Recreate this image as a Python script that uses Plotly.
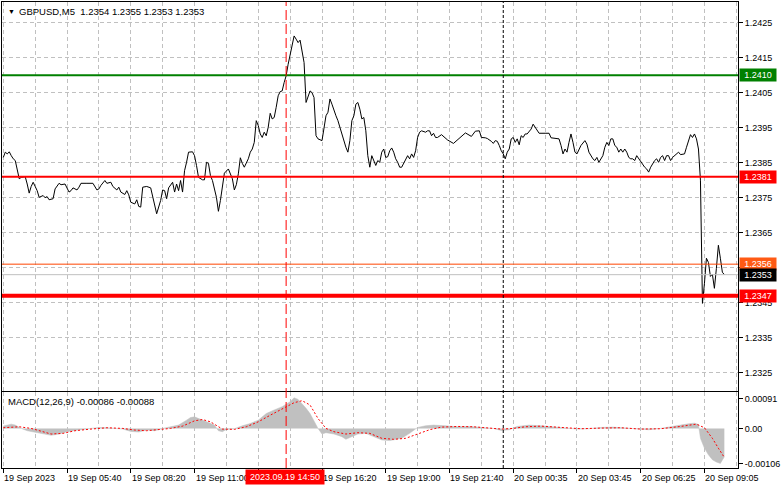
import plotly.graph_objects as go
from plotly.subplots import make_subplots

# ---------------- data ----------------
symbol_title = "GBPUSD,M5\u00a0\u00a01.2354 1.2355 1.2353 1.2353"
macd_title = "MACD(12,26,9) -0.00086 -0.00088"

price_bar = [0, 1, 2, 3, 4, 5, 6, 7, 8, 9, 11, 12, 13, 14, 15, 16, 17, 18, 20, 21, 22, 23, 25, 26, 27, 28, 29, 31,
             33, 34, 35, 37, 38, 39, 42, 45, 47, 48, 49, 51, 52, 54, 55, 57, 58, 59, 61, 62, 63, 64, 66, 67, 68, 69,
             70, 72, 74, 75, 76, 77, 79, 80, 81, 82, 83, 84, 85, 86, 87, 88, 89, 90, 91, 92, 93, 95, 96, 97, 98,
             100, 101, 102, 103, 104, 105, 107, 108, 109, 110, 111, 113, 114, 115, 116, 117, 118, 119, 120, 121,
             123, 124, 125, 126, 127, 128, 129, 130, 131, 132, 133, 134, 135, 136, 137, 138, 139, 140, 141, 142,
             143, 144, 145, 146, 147, 148, 149, 150, 151, 152, 153, 154, 155, 156, 157, 158, 160, 161, 162, 163,
             164, 165, 166, 167, 168, 169, 170, 172, 173, 174, 175, 176, 177, 178, 179, 180, 181, 182, 183, 184,
             185, 186, 187, 188, 189, 190, 191, 192, 193, 194, 195, 196, 197, 198, 199, 200, 201, 202, 203, 204,
             205, 206, 207, 208, 209, 210, 212, 213, 214, 215, 216, 217, 218, 220, 223, 226, 229, 232, 235, 237,
             239, 240, 242, 243, 245, 246, 247, 248, 249, 250, 251, 252, 253, 254, 255, 256, 257, 258, 259, 260,
             261, 262, 263, 265, 266, 267, 268, 269, 272, 274, 275, 278, 279, 280, 281, 282, 283, 284, 285, 286,
             287, 288, 289, 290, 292, 293, 294, 295, 296, 297, 298, 299, 300, 301, 302, 303, 304, 305, 306, 307,
             308, 309, 310, 311, 312, 313, 314, 315, 316, 317, 318, 319, 320, 321, 322, 323, 324, 325, 326, 327,
             328, 329, 330, 331, 332, 333, 334, 335, 336, 337, 338, 339, 340, 342, 343, 344, 345, 346, 347, 348,
             349, 350, 351, 352, 353, 354, 355, 356, 357, 358, 359, 360, 361, 362]
price_close = [1.23865, 1.23880, 1.23875, 1.23881, 1.23870, 1.23861, 1.23856, 1.23827, 1.23804, 1.23808, 1.23810,
               1.23789, 1.23763, 1.23782, 1.23794, 1.23782, 1.23770, 1.23751, 1.23756, 1.23750, 1.23753, 1.23744,
               1.23747, 1.23775, 1.23782, 1.23791, 1.23787, 1.23789, 1.23766, 1.23770, 1.23778, 1.23772, 1.23780,
               1.23791, 1.23791, 1.23791, 1.23772, 1.23775, 1.23785, 1.23799, 1.23791, 1.23794, 1.23782, 1.23772,
               1.23780, 1.23766, 1.23759, 1.23770, 1.23758, 1.23737, 1.23732, 1.23744, 1.23725, 1.23723, 1.23780,
               1.23782, 1.23778, 1.23751, 1.23732, 1.23704, 1.23742, 1.23772, 1.23770, 1.23747, 1.23778, 1.23785,
               1.23794, 1.23766, 1.23789, 1.23770, 1.23799, 1.23766, 1.23827, 1.23851, 1.23880, 1.23881, 1.23870,
               1.23842, 1.23808, 1.23801, 1.23801, 1.23851, 1.23848, 1.23813, 1.23799, 1.23751, 1.23711, 1.23742,
               1.23789, 1.23820, 1.23832, 1.23820, 1.23804, 1.23772, 1.23787, 1.23818, 1.23864, 1.23848, 1.23837,
               1.23861, 1.23880, 1.23889, 1.23908, 1.23970, 1.23956, 1.23932, 1.23922, 1.23937, 1.23927, 1.23951,
               1.23991, 1.23975, 1.23979, 1.24008, 1.24041, 1.24053, 1.24055, 1.24079, 1.24098, 1.24131, 1.24160,
               1.24188, 1.24212, 1.24203, 1.24193, 1.24200, 1.24164, 1.24136, 1.24022, 1.24041, 1.24055, 1.24050,
               1.24036, 1.23927, 1.23918, 1.23913, 1.23951, 1.23984, 1.23994, 1.24032, 1.24017, 1.23998, 1.23984,
               1.23970, 1.23951, 1.23927, 1.23894, 1.23880, 1.23913, 1.23970, 1.23984, 1.24017, 1.24022, 1.24003,
               1.23975, 1.23979, 1.23941, 1.23870, 1.23837, 1.23870, 1.23856, 1.23842, 1.23856, 1.23851, 1.23880,
               1.23889, 1.23865, 1.23867, 1.23884, 1.23892, 1.23880, 1.23861, 1.23851, 1.23837, 1.23837, 1.23848,
               1.23861, 1.23870, 1.23861, 1.23875, 1.23865, 1.23884, 1.23922, 1.23937, 1.23941, 1.23937, 1.23941,
               1.23941, 1.23927, 1.23934, 1.23922, 1.23922, 1.23930, 1.23915, 1.23905, 1.23920, 1.23935, 1.23925,
               1.23940, 1.23941, 1.23922, 1.23921, 1.23919, 1.23911, 1.23905, 1.23913, 1.23911, 1.23899, 1.23884,
               1.23875, 1.23861, 1.23880, 1.23889, 1.23918, 1.23922, 1.23908, 1.23918, 1.23901, 1.23927, 1.23922,
               1.23932, 1.23932, 1.23946, 1.23960, 1.23951, 1.23939, 1.23934, 1.23934, 1.23934, 1.23921, 1.23919,
               1.23918, 1.23899, 1.23875, 1.23889, 1.23880, 1.23908, 1.23932, 1.23908, 1.23880, 1.23875, 1.23889,
               1.23899, 1.23913, 1.23903, 1.23880, 1.23870, 1.23861, 1.23856, 1.23865, 1.23851, 1.23861, 1.23870,
               1.23894, 1.23908, 1.23899, 1.23918, 1.23918, 1.23899, 1.23894, 1.23880, 1.23889, 1.23880, 1.23889,
               1.23880, 1.23865, 1.23861, 1.23861, 1.23856, 1.23870, 1.23861, 1.23851, 1.23842, 1.23837, 1.23832,
               1.23823, 1.23837, 1.23848, 1.23856, 1.23861, 1.23851, 1.23865, 1.23870, 1.23856, 1.23870, 1.23870,
               1.23856, 1.23865, 1.23870, 1.23877, 1.23880, 1.23873, 1.23875, 1.23894, 1.23913, 1.23930, 1.23922,
               1.23932, 1.23918, 1.23889, 1.23800, 1.23448, 1.23505, 1.23577, 1.23565, 1.23525, 1.23531, 1.23491,
               1.23548, 1.23614, 1.23577, 1.23537, 1.23530]

hist_bar = [0, 4, 6, 9, 12, 16, 20, 24, 28, 32, 36, 40, 44, 48, 52, 56, 60, 64, 68, 72, 76, 80, 84, 88, 92, 94, 96,
            100, 104, 106, 108, 110, 112, 116, 120, 124, 128, 132, 136, 140, 144, 146, 148, 150, 152, 154, 156, 158,
            160, 162, 166, 170, 172, 174, 178, 182, 186, 190, 194, 196, 200, 204, 208, 212, 216, 222, 228, 234, 240,
            246, 250, 254, 258, 264, 270, 276, 282, 288, 294, 300, 306, 312, 318, 324, 330, 336, 340, 344, 347, 349,
            350, 352, 354, 356, 358, 360, 362]
hist_val = [0.00007, 0.00013, 0.00010, 0.0, -0.00007, -0.00012, -0.00017, -0.00021, -0.00017, -0.00010, -0.00006,
            -0.00003, 0.00001, 0.00003, 0.00002, 0.00001, -0.00002, -0.00009, -0.00011, -0.00005, -0.00007, 0.0,
            0.00005, 0.00010, 0.00025, 0.00033, 0.00035, 0.00025, 0.00017, 0.00010, -0.00007, -0.00010, -0.00003,
            -0.00001, 0.00008, 0.00015, 0.00025, 0.00045, 0.00056, 0.00066, 0.00081, 0.00093, 0.00088, 0.00076,
            0.00061, 0.00045, 0.00020, 0.0, -0.00017, -0.00013, -0.00017, -0.00025, -0.00033, -0.00027, -0.00017,
            -0.00015, -0.00025, -0.00035, -0.00037, -0.00035, -0.00030, -0.00015, 0.00003, 0.00008, 0.00010,
            0.00008, 0.00005, 0.00006, 0.00004, 0.0, -0.00006, -0.00004, 0.00006, 0.00010, 0.00008, 0.00004,
            0.00001, -0.00002, -0.00001, 0.00003, 0.00004, 0.00001, -0.00003, -0.00004, 0.0, 0.00005, 0.00010,
            0.00014, 0.00016, 0.00012, -0.00030, -0.00060, -0.00080, -0.00095, -0.00102, -0.00106, -0.00086]

signal_bar = [0, 8, 14, 20, 24, 30, 36, 44, 52, 60, 66, 72, 78, 84, 90, 96, 100, 104, 110, 116, 122, 128, 134, 140,
              146, 150, 154, 158, 162, 166, 172, 178, 184, 190, 196, 202, 208, 214, 220, 228, 236, 244, 250, 256,
              262, 270, 280, 290, 300, 310, 320, 330, 340, 348, 352, 356, 359, 362]
signal_val = [0.00002, 0.00005, 0.0, -0.00010, -0.00017, -0.00015, -0.00007, -0.00002, 0.00002, 0.0, -0.00005,
              -0.00007, -0.00004, 0.0, 0.00007, 0.00023, 0.00027, 0.00020, -0.00002, -0.00003, 0.00005, 0.00020,
              0.00040, 0.00058, 0.00078, 0.00084, 0.00071, 0.00030, 0.0, -0.00010, -0.00017, -0.00013, -0.00015,
              -0.00030, -0.00033, -0.00030, -0.00018, -0.00004, 0.00004, 0.00006, 0.00005, 0.00002, -0.00002, 0.0,
              0.00005, 0.00007, 0.00003, -0.00001, 0.00001, 0.00002, -0.00002, -0.00001, 0.00006, 0.00013, 0.00002,
              -0.00030, -0.00060, -0.00088]

# tick at 1.2355 is hidden behind the price boxes in the reference -> blank text
price_ticks = [1.2325, 1.2335, 1.2345, 1.2355, 1.2365, 1.2375, 1.2385, 1.2395, 1.2405, 1.2415, 1.2425]
price_tick_text = ["1.2325", "1.2335", "1.2345", "", "1.2365", "1.2375", "1.2385", "1.2395", "1.2405",
                   "1.2415", "1.2425"]
macd_ticks = [0.00091, 0.0, -0.00106]
macd_tick_text = ["0.00091", "0.00", "-0.00106"]

# label at bar 128 is hidden behind the cursor time box in the reference
time_label_bars = [0, 32, 64, 96, 160, 192, 224, 256, 288, 320, 352]
time_labels = ["19 Sep 2023", "19 Sep 05:40", "19 Sep 08:20", "19 Sep 11:00", "19 Sep 16:20",
               "19 Sep 19:00", "19 Sep 21:40", "20 Sep 00:35", "20 Sep 03:45", "20 Sep 06:25", "20 Sep 09:05"]

level_prices = [1.2410, 1.2381, 1.2347]
level_labels = ["1.2410", "1.2381", "1.2347"]
level_colors = ["#008000", "#FF0000", "#FF0000"]
level_widths = [2, 2, 4]

ask_price, ask_label, ask_color = 1.2356, "1.2356", "#FF4500"
bid_price, bid_label = 1.2353, "1.2353"

cursor_bar, cursor_label = 142, "2023.09.19 14:50"
day_sep_bar = 251

# ---------------- figure ----------------
FONT = "Liberation Sans, Arial, sans-serif"
GRID = "#C0C0C0"

fig = make_subplots(rows=2, cols=1, shared_xaxes=True, vertical_spacing=0.003)

fig.add_trace(go.Scatter(x=price_bar, y=price_close, mode="lines",
                         line=dict(color="black", width=1), hoverinfo="skip"), row=1, col=1)
fig.add_trace(go.Scatter(x=hist_bar, y=hist_val, mode="lines", fill="tozeroy",
                         fillcolor="#C0C0C0", line=dict(color="#C0C0C0", width=0.5),
                         hoverinfo="skip"), row=2, col=1)
fig.add_trace(go.Scatter(x=signal_bar, y=signal_val, mode="lines",
                         line=dict(color="#FF0000", width=1, dash="2px,2px"), hoverinfo="skip"),
              row=2, col=1)

x_range = [-0.65, 368.85]
for r in (1, 2):
    fig.update_xaxes(range=x_range, tickmode="linear", tick0=0, dtick=32,
                     showgrid=True, gridcolor=GRID, griddash="4px,3px", gridwidth=1,
                     minor=dict(tick0=0, dtick=16, showgrid=True, gridcolor=GRID,
                                griddash="4px,3px", gridwidth=1, ticks=""),
                     showline=True, linecolor="black", linewidth=1, mirror=True,
                     showticklabels=False, zeroline=False, row=r, col=1)
fig.update_xaxes(ticks="", row=1, col=1)
fig.update_xaxes(ticks="outside", ticklen=4, tickcolor="black", row=2, col=1)

fig.update_yaxes(side="right", range=[1.23198, 1.24309], tickmode="array", tickvals=price_ticks,
                 ticktext=price_tick_text, ticks="outside", ticklen=4, tickcolor="black",
                 showgrid=True, gridcolor=GRID, griddash="4px,3px", gridwidth=1, zeroline=False,
                 showline=True, linecolor="black", linewidth=1, mirror=True,
                 tickfont=dict(family=FONT, size=9, color="black"), row=1, col=1)
fig.update_yaxes(side="right", range=[-0.00120, 0.00109], tickmode="array", tickvals=macd_ticks,
                 ticktext=macd_tick_text, ticks="outside", ticklen=4, tickcolor="black",
                 showgrid=False, zeroline=False,
                 showline=True, linecolor="black", linewidth=1, mirror=True,
                 tickfont=dict(family=FONT, size=9, color="black"), row=2, col=1)

fig.update_layout(
    width=781, height=489,
    margin=dict(l=2, r=40, t=1, b=21),
    paper_bgcolor="white", plot_bgcolor="white",
    showlegend=False,
    yaxis=dict(domain=[0.1655, 1.0]),
    yaxis2=dict(domain=[0.0, 0.1621]),
    font=dict(family=FONT, size=9, color="black"),
)

# horizontal levels
for p, c, w in zip(level_prices, level_colors, level_widths):
    fig.add_shape(type="line", xref="x domain", x0=0, x1=1, yref="y", y0=p, y1=p,
                  line=dict(color=c, width=w))
fig.add_shape(type="line", xref="x domain", x0=0, x1=1, yref="y", y0=ask_price, y1=ask_price,
              line=dict(color=ask_color, width=1))
fig.add_shape(type="line", xref="x domain", x0=0, x1=1, yref="y", y0=bid_price, y1=bid_price,
              line=dict(color="#C0C0C0", width=1))

# vertical cursor line and day separator (both panels)
fig.add_shape(type="line", xref="x2", x0=cursor_bar, x1=cursor_bar, yref="paper", y0=0, y1=1,
              line=dict(color="#FF0000", width=1, dash="10px,4px"))
fig.add_shape(type="line", xref="x2", x0=day_sep_bar, x1=day_sep_bar, yref="paper", y0=0, y1=1,
              line=dict(color="black", width=1, dash="3px,2px"))

# right-side price boxes
box_specs = list(zip(level_prices, level_labels, level_colors)) + [
    (ask_price, ask_label, "#FF5A14"), (bid_price, bid_label, "black")]
for p, t, c in box_specs:
    fig.add_annotation(xref="paper", x=1, xanchor="left", xshift=1, yref="y", y=p, yanchor="middle",
                       text=t, showarrow=False, bgcolor=c, width=34, height=10, borderpad=1,
                       font=dict(family=FONT, size=9, color="white"))

# time labels along bottom
for b, t in zip(time_label_bars, time_labels):
    fig.add_annotation(xref="x2", x=b, xanchor="left", xshift=-1, yref="paper", y=0, yanchor="middle",
                       yshift=-10, text=t, showarrow=False, font=dict(family=FONT, size=9, color="black"))
fig.add_annotation(xref="x2", x=cursor_bar, xanchor="center", xshift=-1, yref="paper", y=0,
                   yanchor="middle", yshift=-9, text=cursor_label, showarrow=False, bgcolor="#FF0000",
                   width=76, height=12, borderpad=1, font=dict(family=FONT, size=9, color="white"))

# titles
fig.add_annotation(xref="paper", x=0, xanchor="left", xshift=4, yref="paper", y=1, yanchor="middle",
                   yshift=-9, text="\u25bc", showarrow=False, font=dict(family=FONT, size=7, color="black"))
fig.add_annotation(xref="paper", x=0, xanchor="left", xshift=15, yref="paper", y=1, yanchor="middle",
                   yshift=-9, text=symbol_title, showarrow=False,
                   font=dict(family=FONT, size=9.5, color="black"))
fig.add_annotation(xref="paper", x=0, xanchor="left", xshift=4, yref="y2 domain", y=1, yanchor="middle",
                   yshift=-9.5, text=macd_title, showarrow=False,
                   font=dict(family=FONT, size=9.5, color="black"))

fig.write_html("out.html", config={"displayModeBar": False, "staticPlot": True},
               post_script="document.body.style.margin='0';document.body.style.overflow='hidden';")
